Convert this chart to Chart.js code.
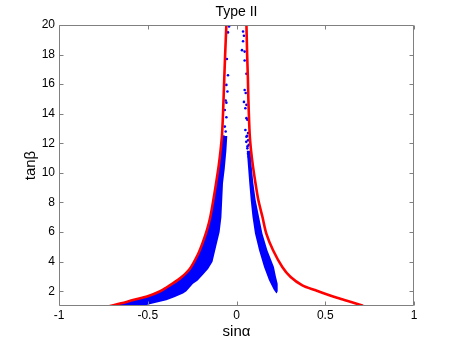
<!DOCTYPE html>
<html>
<head>
<meta charset="utf-8">
<script src="https://cdn.jsdelivr.net/npm/chart.js@4/dist/chart.umd.min.js"></script>
<style>
  html, body { margin: 0; padding: 0; background: #fff; }
  #wrap { width: 457px; height: 344px; }
</style>
</head>
<body>
<div id="wrap"><canvas id="grafico"></canvas></div>
<script>
// Ejes
const titulo = 'Type II';
const xTicks = [-1, -0.5, 0, 0.5, 1];
const yTicks = [2, 4, 6, 8, 10, 12, 14, 16, 18, 20];

// Curva roja izquierda (sinα, tanβ)
const rojoIzqX = [-0.714, -0.65, -0.583, -0.5, -0.43, -0.395, -0.32, -0.264, -0.217, -0.19, -0.165, -0.148, -0.13, -0.115, -0.1, -0.09, -0.082, -0.076, -0.07, -0.064, -0.057];
const rojoIzqY = [1.0, 1.18, 1.4, 1.66, 2.0, 2.25, 2.85, 3.5, 4.5, 5.3, 6.2, 7.0, 8.2, 9.3, 10.5, 11.5, 12.5, 14, 16, 18, 20];

// Curva roja derecha
const rojoDerX = [0.056, 0.06, 0.064, 0.067, 0.074, 0.082, 0.093, 0.107, 0.123, 0.146, 0.168, 0.206, 0.258, 0.305, 0.371, 0.446, 0.487, 0.581, 0.65, 0.713];
const rojoDerY = [20, 18, 16.5, 14.94, 12.68, 11.5, 10.42, 9.3, 8.16, 7.03, 5.9, 4.77, 3.64, 2.96, 2.4, 2.06, 1.88, 1.5, 1.25, 1.02];

// Banda azul izquierda (contorno cerrado)
const bandaIzqX = [-0.72, -0.65, -0.583, -0.5, -0.43, -0.395, -0.32, -0.264, -0.217, -0.19, -0.165, -0.148, -0.13, -0.115, -0.1, -0.09, -0.082,
                   -0.052, -0.057, -0.066, -0.076, -0.085, -0.095, -0.115, -0.135, -0.16, -0.19, -0.22, -0.245, -0.282, -0.301, -0.35, -0.395, -0.46, -0.53];
const bandaIzqY = [1.0, 1.18, 1.4, 1.66, 2.0, 2.25, 2.85, 3.5, 4.5, 5.3, 6.2, 7.0, 8.2, 9.3, 10.5, 11.5, 12.5,
                   12.5, 11.5, 10.3, 9.3, 7.0, 6.0, 5.0, 4.0, 3.5, 3.1, 2.7, 2.5, 2.0, 1.84, 1.6, 1.39, 1.2, 1.0];

// Banda azul derecha (contorno cerrado)
const bandaDerX = [0.058, 0.065, 0.072, 0.08, 0.09, 0.104, 0.127, 0.155, 0.183, 0.21, 0.222, 0.226,
                   0.232, 0.232, 0.222, 0.211, 0.174, 0.146, 0.127, 0.108, 0.095, 0.086, 0.078];
const bandaDerY = [11.5, 10.4, 9.3, 8.16, 7.03, 5.9, 4.77, 3.64, 2.74, 2.1, 1.9, 1.85,
                   2.0, 2.5, 3.0, 3.64, 4.77, 5.9, 7.03, 8.16, 9.3, 10.4, 11.5];

// Puntos azules dispersos en la zona alta
const puntosX = [-0.042, -0.048, -0.054, -0.048, -0.057, -0.051, -0.061, -0.057, -0.066, -0.057, -0.066, -0.061, -0.072,
                 0.037, 0.042, 0.037, 0.031, 0.046, 0.046, 0.056, 0.046, 0.052, 0.042, 0.056, 0.05, 0.056, 0.061, 0.065, 0.056, 0.065, 0.069, 0.061, 0.065, 0.069,
                 0.05, 0.06, 0.055, 0.062];
const puntosY = [19.9, 19.5, 17.7, 16.6, 15.95, 15.5, 14.9, 14.75, 14.25, 13.76, 13.13, 12.8, 12.45,
                 19.56, 19.27, 18.9, 18.3, 18.2, 17.6, 16.7, 15.6, 15.4, 14.8, 14.6, 14.37, 13.7, 13.6, 12.7, 12.45, 12.2, 11.9, 11.66, 11.3, 11.1,
                 12.9, 12.5, 12.1, 11.8];

function pares(xs, ys) {
    return xs.map((x, i) => ({x: x, y: ys[i]}));
}

const fuente = 'Liberation Sans, Arial, Helvetica, sans-serif';

// Relleno de las bandas como polígono cerrado
const rellenoBandas = {
    id: 'rellenoBandas',
    beforeDatasetsDraw(chart) {
        const {ctx, chartArea: a} = chart;
        chart.data.datasets.forEach((ds, i) => {
            if (!ds.banda) return;
            const pts = chart.getDatasetMeta(i).data;
            ctx.save();
            ctx.beginPath();
            ctx.rect(a.left, a.top, a.width, a.height);
            ctx.clip();
            ctx.beginPath();
            pts.forEach((p, k) => k === 0 ? ctx.moveTo(p.x, p.y) : ctx.lineTo(p.x, p.y));
            ctx.closePath();
            ctx.fillStyle = '#0000ff';
            ctx.fill();
            ctx.restore();
        });
    }
};

// Caja, marcas hacia dentro y título centrado sobre el área de datos
const cajaMatlab = {
    id: 'cajaMatlab',
    afterDatasetsDraw(chart) {
        const {ctx, chartArea: a, scales} = chart;
        const l = Math.round(a.left) + 0.5, r = Math.round(a.right) - 0.5;
        const t = Math.round(a.top) + 0.5, b = Math.round(a.bottom) - 0.5;
        ctx.save();
        ctx.strokeStyle = '#808080';
        ctx.lineWidth = 1;
        ctx.beginPath();
        ctx.rect(l, t, r - l, b - t);
        xTicks.forEach(v => {
            const px = Math.round(scales.x.getPixelForValue(v)) + 0.5;
            ctx.moveTo(px, b); ctx.lineTo(px, b - 4);
            ctx.moveTo(px, t); ctx.lineTo(px, t + 4);
        });
        yTicks.forEach(v => {
            const py = Math.round(scales.y.getPixelForValue(v)) + 0.5;
            ctx.moveTo(l, py); ctx.lineTo(l + 4, py);
            ctx.moveTo(r, py); ctx.lineTo(r - 4, py);
        });
        ctx.stroke();

        ctx.fillStyle = '#000';
        ctx.font = '14px ' + fuente;
        ctx.textAlign = 'center';
        ctx.textBaseline = 'middle';
        ctx.fillText(titulo, (a.left + a.right) / 2, 12);
        ctx.restore();
    }
};

new Chart(document.getElementById('grafico').getContext('2d'), {
    type: 'scatter',
    data: {
        datasets: [
            {
                data: pares(rojoIzqX, rojoIzqY),
                showLine: true, borderColor: '#ff0000', borderWidth: 2.6,
                pointRadius: 0, tension: 0.3
            },
            {
                data: pares(rojoDerX, rojoDerY),
                showLine: true, borderColor: '#ff0000', borderWidth: 2.6,
                pointRadius: 0, tension: 0.3
            },
            {
                data: pares(puntosX, puntosY),
                pointRadius: 1.3, pointBorderWidth: 0,
                backgroundColor: '#0000ff', borderColor: '#0000ff'
            },
            { data: pares(bandaIzqX, bandaIzqY), banda: true, pointRadius: 0, showLine: false },
            { data: pares(bandaDerX, bandaDerY), banda: true, pointRadius: 0, showLine: false }
        ]
    },
    options: {
        responsive: true,
        maintainAspectRatio: false,
        animation: false,
        layout: { padding: { left: 0, right: 43, top: 25, bottom: 0 } },
        plugins: {
            legend: { display: false },
            tooltip: { enabled: false },
            title: { display: false }
        },
        scales: {
            x: {
                type: 'linear', min: -1, max: 1,
                grid: { display: false, drawTicks: false },
                border: { display: false },
                afterBuildTicks: s => { s.ticks = xTicks.map(v => ({value: v})); },
                afterFit: s => { s.height = 38; },
                ticks: {
                    color: '#000', padding: 2,
                    font: { family: fuente, size: 12 },
                    callback: v => String(v)
                },
                title: {
                    display: true, text: 'sinα', color: '#000',
                    font: { family: fuente, size: 15 },
                    padding: { top: 0, bottom: 3 }
                }
            },
            y: {
                type: 'linear', min: 1, max: 20,
                grid: { display: false, drawTicks: false },
                border: { display: false },
                afterBuildTicks: s => { s.ticks = yTicks.map(v => ({value: v})); },
                afterFit: s => { s.width = 59; },
                ticks: {
                    color: '#000', padding: 4,
                    font: { family: fuente, size: 12 },
                    callback: v => String(v)
                },
                title: {
                    display: true, text: 'tanβ', color: '#000',
                    font: { family: fuente, size: 15 },
                    padding: { top: 22, bottom: 0 }
                }
            }
        }
    },
    plugins: [rellenoBandas, cajaMatlab]
});
</script>
</body>
</html>
